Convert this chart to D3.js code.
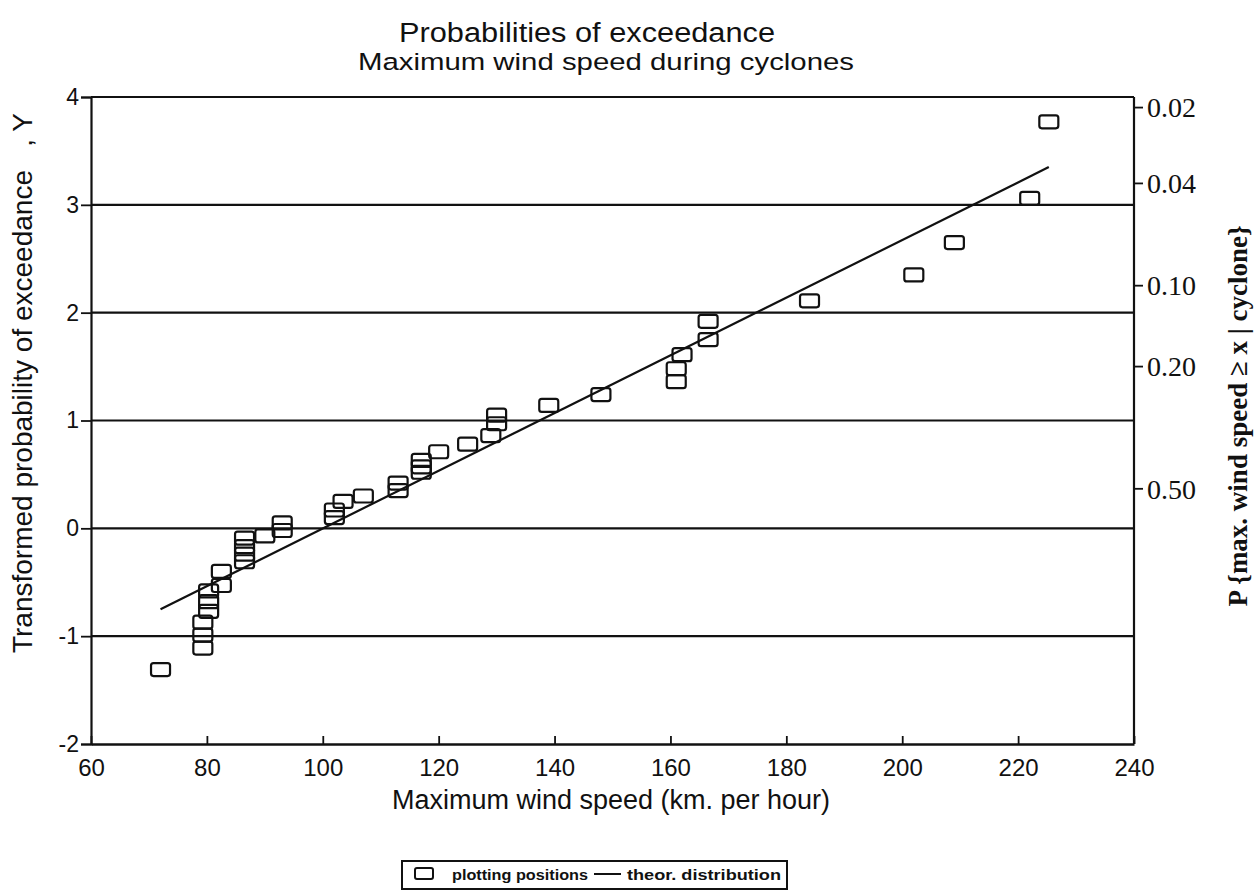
<!DOCTYPE html>
<html>
<head>
<meta charset="utf-8">
<script src="https://cdn.jsdelivr.net/npm/d3@7"></script>
<style>
  html, body { margin: 0; padding: 0; background: #fff; }
  svg { display: block; }
  .sans { font-family: "Liberation Sans", Arial, Helvetica, sans-serif; }
  .serif { font-family: "Liberation Serif", "Times New Roman", serif; }
</style>
</head>
<body>
<svg id="chart" width="1259" height="895"></svg>
<script>
// Observed maximum wind speeds (km/h) and their plotting positions (transformed Y)
const windSpeed = [72, 79.3, 79.3, 79.3, 80.3, 80.3, 80.3, 82.5, 82.5,
  86.5, 86.5, 86.5, 86.5, 90, 93, 93, 102, 102, 103.5, 107,
  113, 113, 117, 117, 117, 120, 125, 129, 130, 130, 139, 148,
  161, 161, 162, 166.5, 166.5, 184, 202, 209, 222, 225.3];
const plotPos = [-1.31, -1.11, -0.99, -0.87, -0.58, -0.68, -0.77, -0.40, -0.53,
  -0.09, -0.17, -0.24, -0.31, -0.07, 0.05, -0.02, 0.17, 0.10, 0.25, 0.30,
  0.42, 0.35, 0.63, 0.57, 0.52, 0.71, 0.78, 0.86, 1.05, 0.97, 1.14, 1.24,
  1.48, 1.36, 1.61, 1.75, 1.92, 2.11, 2.35, 2.65, 3.06, 3.77];

// Fitted theoretical distribution: end points of the straight line
const theorX = [72, 225.3];
const theorY = [-0.75, 3.35];

// Axis ticks
const xTicks = [60, 80, 100, 120, 140, 160, 180, 200, 220, 240];
const yTicks = [-2, -1, 0, 1, 2, 3, 4];
const gridLevels = [-1, 0, 1, 2, 3];
const probTicks = [0.02, 0.04, 0.10, 0.20, 0.50];
const probLabels = ["0.02", "0.04", "0.10", "0.20", "0.50"];

const svg = d3.select("#chart");

const x = d3.scaleLinear().domain([60, 240]).range([91, 1134]);
const y = d3.scaleLinear().domain([-2, 4]).range([744, 97]);
// Gumbel reduced variate for an exceedance probability
const reduced = p => -Math.log(-Math.log(1 - p));

// Two-line heading
svg.append("text").attr("class", "sans").attr("fill", "#111")
  .attr("text-anchor", "middle").attr("x", 587).attr("y", 42)
  .attr("font-size", 27).attr("textLength", 376).attr("lengthAdjust", "spacingAndGlyphs")
  .text("Probabilities of exceedance");
svg.append("text").attr("class", "sans").attr("fill", "#111")
  .attr("text-anchor", "middle").attr("x", 606).attr("y", 70)
  .attr("font-size", 24.5).attr("textLength", 496).attr("lengthAdjust", "spacingAndGlyphs")
  .text("Maximum wind speed during cyclones");

// Horizontal grid lines
svg.append("g").selectAll("line").data(gridLevels).join("line")
  .attr("x1", x(60)).attr("x2", x(240))
  .attr("y1", d => y(d)).attr("y2", d => y(d))
  .attr("stroke", "#111").attr("stroke-width", 2.2);

// Plot frame (top and right)
svg.append("line").attr("x1", x(60)).attr("x2", x(240))
  .attr("y1", y(4)).attr("y2", y(4)).attr("stroke", "#111").attr("stroke-width", 2.2);
svg.append("line").attr("x1", x(240)).attr("x2", x(240))
  .attr("y1", y(4)).attr("y2", y(-2)).attr("stroke", "#111").attr("stroke-width", 2.2);

// Left axis
const yAxis = svg.append("g").attr("transform", `translate(${x(60)},0)`)
  .call(d3.axisLeft(y).tickValues(yTicks).tickSize(10).tickPadding(2).tickFormat(d => String(d)));
yAxis.select(".domain").attr("stroke", "#111").attr("stroke-width", 2.2);
yAxis.selectAll(".tick line").attr("stroke", "#111").attr("stroke-width", 1.8);
yAxis.selectAll(".tick text").attr("class", "sans").attr("font-size", 23).attr("fill", "#111");

// Bottom axis
const xAxis = svg.append("g").attr("transform", `translate(0,${y(-2)})`)
  .call(d3.axisBottom(x).tickValues(xTicks).tickSizeInner(-8).tickSizeOuter(0).tickPadding(15));
xAxis.select(".domain").attr("stroke", "#111").attr("stroke-width", 2.6);
xAxis.selectAll(".tick line").attr("stroke", "#111").attr("stroke-width", 1.8);
xAxis.selectAll(".tick text").attr("class", "sans").attr("font-size", 24).attr("fill", "#111");

// Right axis: exceedance probability
const rAxis = svg.append("g").attr("transform", `translate(${x(240)},0)`);
rAxis.selectAll("line").data(probTicks).join("line")
  .attr("x1", 0).attr("x2", 9)
  .attr("y1", d => y(reduced(d))).attr("y2", d => y(reduced(d)))
  .attr("stroke", "#111").attr("stroke-width", 1.8);
rAxis.selectAll("text").data(probTicks).join("text")
  .attr("class", "serif").attr("font-size", 28).attr("fill", "#111")
  .attr("x", 13).attr("y", d => y(reduced(d))).attr("dy", "0.35em")
  .text((d, i) => probLabels[i]);

// Axis titles
svg.append("text").attr("class", "sans")
  .attr("transform", "translate(32,383) rotate(-90)")
  .attr("text-anchor", "middle").attr("font-size", 28).attr("fill", "#111")
  .attr("xml:space", "preserve")
  .text("Transformed probability of exceedance   , Y");
svg.append("text").attr("class", "sans")
  .attr("x", 611).attr("y", 809).attr("text-anchor", "middle")
  .attr("font-size", 27).attr("fill", "#111")
  .text("Maximum wind speed (km. per hour)");
svg.append("text").attr("class", "serif")
  .attr("transform", "translate(1247,416) rotate(-90)")
  .attr("text-anchor", "middle").attr("font-size", 27).attr("font-weight", "bold")
  .attr("fill", "#111")
  .text("P {max. wind speed \u2265 x  |  cyclone}");

// Theoretical distribution line
const lineData = theorX.map((v, i) => [v, theorY[i]]);
svg.append("path")
  .attr("d", d3.line().x(d => x(d[0])).y(d => y(d[1]))(lineData))
  .attr("fill", "none").attr("stroke", "#111").attr("stroke-width", 2.2);

// Plotting positions (open rectangles)
const mw = 19, mh = 13;
svg.append("g").selectAll("rect").data(windSpeed).join("rect")
  .attr("x", d => x(d) - mw / 2)
  .attr("y", (d, i) => y(plotPos[i]) - mh / 2)
  .attr("width", mw).attr("height", mh).attr("rx", 2.5)
  .attr("fill", "none").attr("stroke", "#111").attr("stroke-width", 2.2);

// Legend
const lg = svg.append("g");
lg.append("rect").attr("x", 402).attr("y", 861).attr("width", 385).attr("height", 28)
  .attr("fill", "#fff").attr("stroke", "#111").attr("stroke-width", 2);
lg.append("rect").attr("x", 415).attr("y", 868).attr("width", 18).attr("height", 11).attr("rx", 2)
  .attr("fill", "none").attr("stroke", "#111").attr("stroke-width", 2);
lg.append("text").attr("class", "sans").attr("x", 452).attr("y", 880)
  .attr("font-size", 15).attr("font-weight", "bold").attr("fill", "#111")
  .attr("textLength", 136).attr("lengthAdjust", "spacingAndGlyphs")
  .text("plotting positions");
lg.append("line").attr("x1", 594).attr("x2", 621).attr("y1", 874).attr("y2", 874)
  .attr("stroke", "#111").attr("stroke-width", 2);
lg.append("text").attr("class", "sans").attr("x", 627).attr("y", 880)
  .attr("font-size", 15).attr("font-weight", "bold").attr("fill", "#111")
  .attr("textLength", 154).attr("lengthAdjust", "spacingAndGlyphs")
  .text("theor. distribution");
</script>
</body>
</html>
